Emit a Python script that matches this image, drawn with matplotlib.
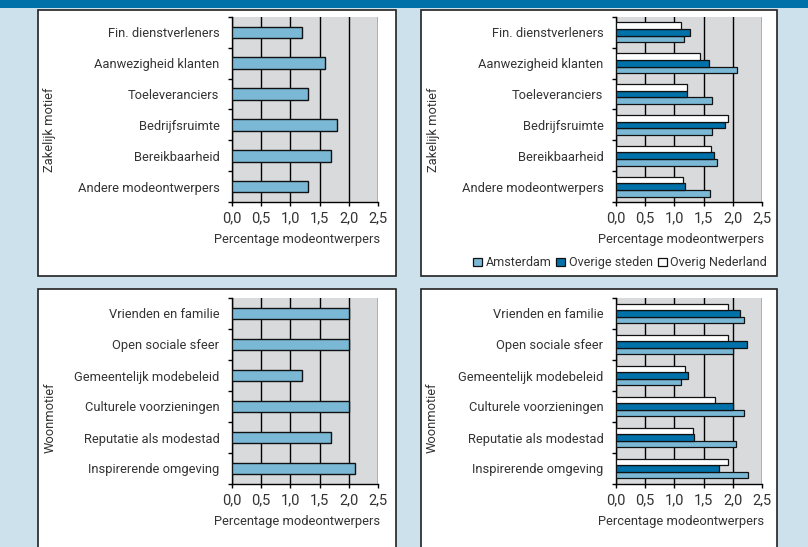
import matplotlib.pyplot as plt
import matplotlib.patches as patches
import numpy as np

# data (percentage of fashion designers)
zakelijk = ["Andere modeontwerpers", "Bereikbaarheid", "Bedrijfsruimte",
            "Toeleveranciers", "Aanwezigheid klanten", "Fin. dienstverleners"]
zak_totaal = [1.3, 1.7, 1.8, 1.3, 1.6, 1.2]
zak_amsterdam = [1.61, 1.73, 1.65, 1.65, 2.07, 1.16]
zak_steden = [1.18, 1.68, 1.86, 1.22, 1.59, 1.26]
zak_overig = [1.14, 1.62, 1.92, 1.22, 1.43, 1.12]

woon = ["Inspirerende omgeving", "Reputatie als modestad", "Culturele voorzieningen",
        "Gemeentelijk modebeleid", "Open sociale sfeer", "Vrienden en familie"]
woon_totaal = [2.1, 1.7, 2.0, 1.2, 2.0, 2.0]
woon_amsterdam = [2.26, 2.05, 2.2, 1.12, 2.0, 2.2]
woon_steden = [1.76, 1.34, 2.0, 1.24, 2.24, 2.13]
woon_overig = [1.92, 1.31, 1.7, 1.19, 1.92, 1.92]

xticks = [0, 0.5, 1.0, 1.5, 2.0, 2.5]
series = ["Amsterdam", "Overige steden", "Overig Nederland"]

LIGHT = "#7ab8d6"
DARK = "#0071a9"
TXT = "#333333"
FS = 9.3

plt.rcParams['font.family'] = ['Roboto', 'DejaVu Sans']
plt.rcParams['font.size'] = FS

fig = plt.figure(figsize=(8.08, 5.47), dpi=100)
fig.patch.set_facecolor("#cce1eb")

W, H = 808.0, 547.0

# blue band on top
fig.add_artist(patches.Rectangle((0, 1 - 8 / H), 1, 8 / H, transform=fig.transFigure,
                                 facecolor=DARK, edgecolor="none", zorder=-2))

# white panel boxes (x0, y0, x1, y1 in pixels from top-left)
for x0, y0, x1, y1 in [(38, 10, 396, 276), (421, 10, 777, 276),
                       (38, 289, 396, 570), (421, 289, 777, 570)]:
    fig.add_artist(patches.Rectangle((x0 / W, 1 - y1 / H), (x1 - x0) / W, (y1 - y0) / H,
                                     transform=fig.transFigure, facecolor="white",
                                     edgecolor="#222222", linewidth=1.2, zorder=-2))


def style_axes(ax, labels):
    ax.set_facecolor("#d9dadb")
    ax.set_xlim(0, 2.5)
    ax.set_ylim(-0.5, 5.5)
    ax.set_xticks(xticks)
    ax.set_xticklabels([("%.1f" % v).replace(".", ",") for v in xticks],
                       color=TXT, fontsize=10.5)
    ax.set_yticks(np.arange(len(labels)))
    ax.set_yticklabels(labels, color=TXT, fontsize=FS)
    ax.set_yticks(np.arange(-0.5, 6, 1), minor=True)
    ax.tick_params(axis="y", which="major", length=0, pad=9)
    ax.tick_params(axis="y", which="minor", length=3, width=1, direction="out")
    ax.tick_params(axis="x", length=3, width=1, direction="out", pad=4)
    ax.spines["top"].set_visible(False)
    ax.spines["right"].set_visible(False)
    for s in ["left", "bottom"]:
        ax.spines[s].set_color("black")
        ax.spines[s].set_linewidth(1)
    ax.set_axisbelow(True)
    ax.grid(axis="x", color="black", linewidth=1)


def single_panel(ax, labels, vals):
    y = np.arange(len(labels))
    ax.barh(y, vals, height=0.38, color=LIGHT, edgecolor="#111111", linewidth=1, zorder=3)
    style_axes(ax, labels)


def grouped_panel(ax, labels, a, s, o):
    y = np.arange(len(labels))
    h = 0.215
    ax.barh(y - h, a, height=h, color=LIGHT, edgecolor="#111111", linewidth=0.9,
            zorder=3, label=series[0])
    ax.barh(y, s, height=h, color=DARK, edgecolor="#111111", linewidth=0.9,
            zorder=3, label=series[1])
    ax.barh(y + h, o, height=h, color="white", edgecolor="#111111", linewidth=0.9,
            zorder=3, label=series[2])
    style_axes(ax, labels)


ax1 = fig.add_axes([232 / W, 1 - 202 / H, 146 / W, 185 / H])
single_panel(ax1, zakelijk, zak_totaal)
ax2 = fig.add_axes([616 / W, 1 - 202 / H, 146 / W, 185 / H])
grouped_panel(ax2, zakelijk, zak_amsterdam, zak_steden, zak_overig)
ax3 = fig.add_axes([232 / W, 1 - 484 / H, 146 / W, 186 / H])
single_panel(ax3, woon, woon_totaal)
ax4 = fig.add_axes([616 / W, 1 - 484 / H, 146 / W, 186 / H])
grouped_panel(ax4, woon, woon_amsterdam, woon_steden, woon_overig)

# axis titles
for xr, yr in [(380, 239), (764, 239), (380, 522), (764, 522)]:
    fig.text(xr / W, 1 - yr / H, "Percentage modeontwerpers", ha="right", va="center",
             color=TXT, fontsize=FS)
fig.text(50 / W, 1 - 130 / H, "Zakelijk motief", rotation=90, ha="center", va="center",
         color=TXT, fontsize=FS)
fig.text(434 / W, 1 - 130 / H, "Zakelijk motief", rotation=90, ha="center", va="center",
         color=TXT, fontsize=FS)
fig.text(50 / W, 1 - 418 / H, "Woonmotief", rotation=90, ha="center", va="center",
         color=TXT, fontsize=FS)
fig.text(432 / W, 1 - 418 / H, "Woonmotief", rotation=90, ha="center", va="center",
         color=TXT, fontsize=FS)

handles, labs = ax2.get_legend_handles_labels()
fig.legend(handles, labs, loc="center right", bbox_to_anchor=(767 / W, 1 - 263 / H),
           ncol=3, frameon=False, handlelength=0.7, handleheight=0.7,
           handletextpad=0.3, columnspacing=0.4, fontsize=9,
           labelcolor=TXT, borderaxespad=0, borderpad=0)

fig.savefig("out.png", dpi=100, facecolor=fig.get_facecolor())
